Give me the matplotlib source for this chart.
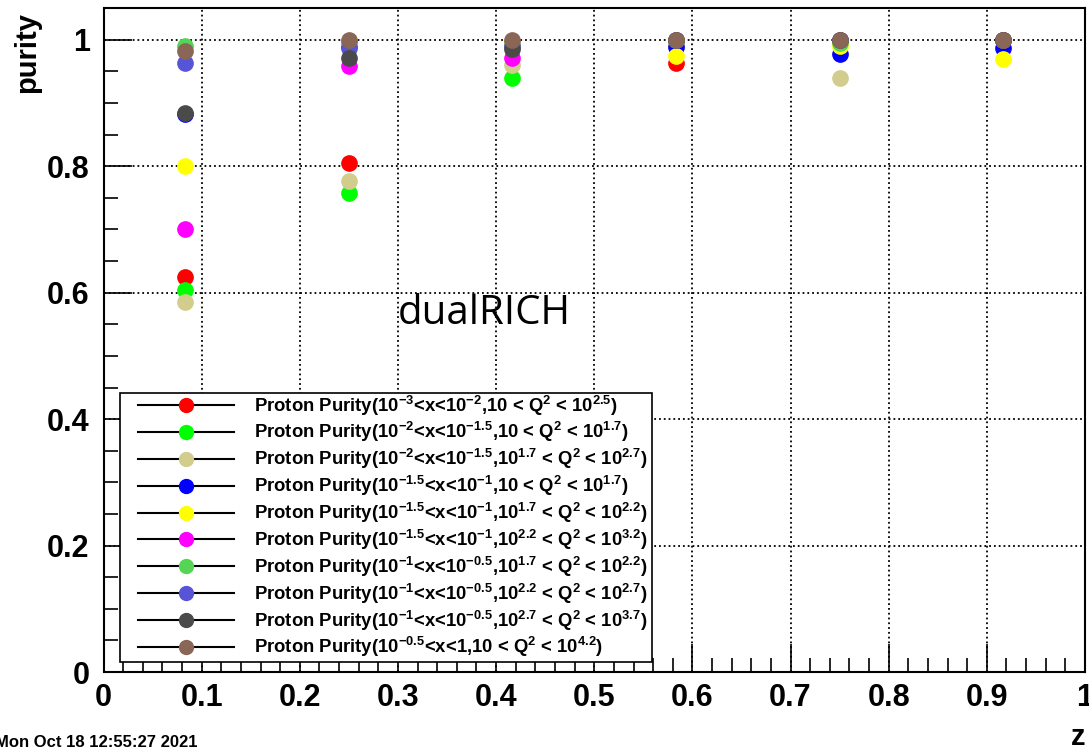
import matplotlib
matplotlib.use('Agg')
import matplotlib.pyplot as plt
import numpy as np
from matplotlib.ticker import MultipleLocator
from matplotlib.patches import Rectangle

plt.rcParams['font.family'] = ['Liberation Sans', 'DejaVu Sans']
plt.rcParams['font.weight'] = 'bold'
plt.rcParams['mathtext.fontset'] = 'custom'
plt.rcParams['mathtext.rm'] = 'Liberation Sans:bold'
plt.rcParams['mathtext.bf'] = 'Liberation Sans:bold'
plt.rcParams['mathtext.default'] = 'bf'

# bin centres in z
z = [1/12, 3/12, 5/12, 7/12, 9/12, 11/12]

labels = [
    r'Proton Purity(10$^{-3}$<x<10$^{-2}$,10 < Q$^{2}$ < 10$^{2.5}$)',
    r'Proton Purity(10$^{-2}$<x<10$^{-1.5}$,10 < Q$^{2}$ < 10$^{1.7}$)',
    r'Proton Purity(10$^{-2}$<x<10$^{-1.5}$,10$^{1.7}$ < Q$^{2}$ < 10$^{2.7}$)',
    r'Proton Purity(10$^{-1.5}$<x<10$^{-1}$,10 < Q$^{2}$ < 10$^{1.7}$)',
    r'Proton Purity(10$^{-1.5}$<x<10$^{-1}$,10$^{1.7}$ < Q$^{2}$ < 10$^{2.2}$)',
    r'Proton Purity(10$^{-1.5}$<x<10$^{-1}$,10$^{2.2}$ < Q$^{2}$ < 10$^{3.2}$)',
    r'Proton Purity(10$^{-1}$<x<10$^{-0.5}$,10$^{1.7}$ < Q$^{2}$ < 10$^{2.2}$)',
    r'Proton Purity(10$^{-1}$<x<10$^{-0.5}$,10$^{2.2}$ < Q$^{2}$ < 10$^{2.7}$)',
    r'Proton Purity(10$^{-1}$<x<10$^{-0.5}$,10$^{2.7}$ < Q$^{2}$ < 10$^{3.7}$)',
    r'Proton Purity(10$^{-0.5}$<x<1,10 < Q$^{2}$ < 10$^{4.2}$)',
]

colors = ['#ff0000', '#00ff00', '#d2cd8c', '#0000ff', '#ffff00',
          '#ff00ff', '#55d455', '#5854d8', '#4a4a4a', '#8a6656']

purity = [
    [0.625, 0.805, 0.995, 0.963, 0.998, 1.000],
    [0.605, 0.758, 0.940, 0.995, 1.000, 1.000],
    [0.585, 0.776, 0.960, 0.995, 0.940, 1.000],
    [0.883, 0.990, 0.995, 0.988, 0.977, 0.987],
    [0.800, 0.995, 0.995, 0.975, 0.990, 0.970],
    [0.700, 0.958, 0.972, 1.000, 1.000, 1.000],
    [0.990, 0.995, 0.990, 1.000, 0.995, 1.000],
    [0.963, 0.987, 0.990, 1.000, 1.000, 1.000],
    [0.885, 0.972, 0.986, 1.000, 1.000, 1.000],
    [0.983, 1.000, 1.000, 1.000, 1.000, 1.000],
]

fig = plt.figure(figsize=(10.89, 7.48), dpi=100)
ax = fig.add_axes([0.0951, 0.1016, 0.9012, 0.8874])

for vals, c, lab in zip(purity, colors, labels):
    ax.plot(z, vals, 'o', color=c, markersize=11, label=lab)

# legend look: black line through the marker
handles = [plt.Line2D([], [], color='black', lw=1.5, marker='o', markersize=10,
                      markerfacecolor=c, markeredgecolor=c) for c in colors]

ax.set_xlim(0, 1)
ax.set_ylim(0, 1.05)
ax.xaxis.set_minor_locator(MultipleLocator(0.02))
ax.yaxis.set_minor_locator(MultipleLocator(0.05))
ax.set_xticks([0, 0.1, 0.2, 0.3, 0.4, 0.5, 0.6, 0.7, 0.8, 0.9, 1])
ax.set_xticklabels(['0', '0.1', '0.2', '0.3', '0.4', '0.5', '0.6', '0.7', '0.8', '0.9', '1'])
ax.set_yticks([0, 0.2, 0.4, 0.6, 0.8, 1])
ax.set_yticklabels(['0', '0.2', '0.4', '0.6', '0.8', '1'])
ax.tick_params(which='both', direction='in', top=False, right=False, labelsize=22, width=1.2)
ax.tick_params(which='major', length=20)
ax.tick_params(which='minor', length=10)
ax.tick_params(axis='x', pad=8)
ax.tick_params(axis='y', pad=10)
ax.grid(True, which='major', color='black', linestyle=':', linewidth=1.3)
for s in ax.spines.values():
    s.set_linewidth(1.5)

ax.text(0.3, 0.566, 'dualRICH', fontsize=29, family='Open Sans', fontweight='normal',
        transform=ax.transData, va='center', ha='left')

# legend box drawn separately so the padding can be set freely
ax.add_patch(Rectangle((0.0167, 0.0151), 0.542, 0.405, transform=ax.transAxes,
                       facecolor='white', edgecolor='black', linewidth=1.2, zorder=4))
leg = ax.legend(handles, labels, loc='lower left', bbox_to_anchor=(0.035, 0.019),
                fontsize=13.3, frameon=False,
                handlelength=5.2, labelspacing=0.15, borderpad=0,
                handletextpad=1.1, borderaxespad=0)
leg.set_zorder(5)

fig.text(0.012, 0.93, 'purity', rotation=90, fontsize=21, ha='left', va='center')
fig.text(0.997, 0.015, 'z', fontsize=21, ha='right', va='center')
fig.text(-0.005, 0.008, 'Mon Oct 18 12:55:27 2021', fontsize=12, ha='left', va='center')

fig.savefig('out.png', dpi=100)
